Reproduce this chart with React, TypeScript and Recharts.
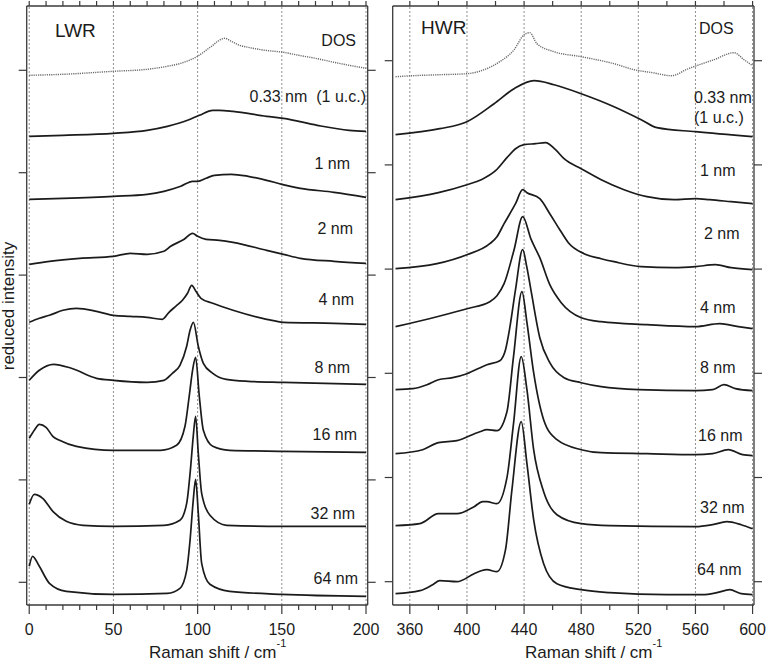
import React from "react";
import { LineChart, Line, XAxis, YAxis, ReferenceLine } from "recharts";

type Pt = [number, number];

// ---- LWR panel (low wavenumber region), Raman shift 0-200 cm-1 ----
const LWR_X_TICKS = [0, 10, 20, 30, 40, 50, 60, 70, 80, 90, 100, 110, 120, 130, 140, 150, 160, 170, 180, 190, 200];
const LWR_X_LABELS = [0, 50, 100, 150, 200];
const LWR_Y_TICKS = [0, 102.4, 204.8, 307.2, 409.6, 512];

const LWR_DOS: Pt[] = [[0, 507], [20, 508], [50, 511], [70, 513], [82, 516], [90, 519], [95, 522], [100, 526], [105, 532], [109, 537], [112, 541], [116, 544], [120, 541], [125, 537], [130, 535], [140, 532], [151, 530], [160, 527], [170, 524], [181, 520], [190, 517], [200, 514]];
const LWR_033: Pt[] = [[0, 446], [20, 447], [50, 449], [70, 452], [82, 456], [94, 462], [101, 467], [109, 472], [113, 472], [121, 471], [141, 466], [151, 464], [171, 457], [190, 452], [200, 451]];
const LWR_1: Pt[] = [[0, 383], [20, 384], [50, 386], [70, 388], [80, 391], [90, 396], [97, 401], [100, 401], [105, 404], [110, 407], [120, 408], [130, 406], [141, 402], [150, 398], [161, 394], [181, 390], [200, 385]];
const LWR_2: Pt[] = [[0, 318], [12, 321], [30, 324], [50, 326], [60, 329], [70, 328], [80, 331], [84, 336], [92, 343], [97, 349], [100, 346], [105, 343], [113, 342], [121, 340], [141, 332], [151, 328], [161, 324], [181, 321], [200, 319]];
const LWR_4: Pt[] = [[0, 260], [6, 264], [12, 267], [20, 272], [28, 274], [40, 271], [50, 267], [60, 266], [70, 265], [79, 263], [83, 270], [87, 276], [91, 282], [94, 289], [96.5, 297], [99, 291], [102, 284], [109, 279], [121, 272], [141, 263], [151, 260], [181, 259], [200, 258]];
const LWR_8: Pt[] = [[0, 202], [6, 212], [14.5, 218], [25, 214], [40, 204], [50, 202], [70, 200], [80, 202], [85, 209], [89.5, 217], [93.5, 236], [95.5, 252], [97.5, 260], [100.4, 236], [103.4, 219], [109, 209], [117, 203], [130, 201], [151, 200], [200, 198]];
const LWR_16: Pt[] = [[0, 144], [3, 152], [6, 158], [10, 155], [14, 146], [18, 142], [28, 136], [50, 132], [78, 132], [87.5, 137], [92.5, 156], [95, 186], [97, 212], [98.8, 225], [101, 186], [103.4, 152], [109, 136], [119, 132], [150, 131], [200, 130]];
const LWR_32: Pt[] = [[0, 78], [3, 88], [8, 84], [14, 71], [22, 61], [32, 57], [50, 56], [80, 57], [89.5, 62], [93.5, 79], [95.9, 116], [97.4, 146], [98.8, 166], [100.4, 129], [102.4, 89], [107.3, 67], [117.3, 57], [150, 56], [200, 56]];
const LWR_64: Pt[] = [[0, 16], [2, 26], [6, 16], [12, -1], [22, -9], [50, -12], [82, -11], [89.5, -6], [93.5, 12], [95.5, 42], [97.4, 82], [98.8, 103], [100.4, 69], [102.4, 19], [107.3, -2], [119, -9], [150, -12], [200, -14]];

// ---- HWR panel (high wavenumber region), Raman shift 348-600 cm-1 ----
const HWR_X_TICKS = [360, 380, 400, 420, 440, 460, 480, 500, 520, 540, 560, 580, 600];
const HWR_X_LABELS = [360, 400, 440, 480, 520, 560, 600];
const HWR_Y_TICKS = [0, 104.2, 208.4, 312.6, 416.8, 521];

const HWR_DOS: Pt[] = [[350, 505], [362, 506], [381, 507], [400, 508], [412, 512], [423, 520], [433, 532], [440, 547], [444, 549], [449, 538], [461, 530], [480, 525], [503, 518], [517, 512], [530, 509], [543, 506], [555, 513], [573, 522], [587, 529], [594, 522], [600, 516]];
const HWR_033: Pt[] = [[350, 447], [381, 453], [400, 460], [419, 478], [433, 493], [447, 501], [461, 497], [480, 488], [503, 475], [522, 462], [533, 454], [560, 450], [600, 445]];
const HWR_1: Pt[] = [[350, 382], [380, 389], [400, 397], [410, 402], [420, 411], [428, 424], [434, 433], [440, 437], [448, 438], [455, 439], [462, 432], [468, 423], [480, 413], [494, 402], [510, 392], [526, 385], [545, 382], [560, 383], [570, 382], [585, 380], [600, 378]];
const HWR_2: Pt[] = [[350, 313], [379, 318], [400, 327], [416, 338], [421, 345], [426, 358], [434, 378], [439, 392], [442, 389], [451, 383], [458, 368], [465, 352], [471, 339], [482, 328], [494, 323], [503, 320], [522, 315], [545, 314], [560, 315], [574, 317], [585, 314], [600, 312]];
const HWR_4: Pt[] = [[350, 255], [379, 265], [400, 273], [416, 280], [421, 286], [426, 298], [433, 332], [439, 365], [445, 342], [451, 324], [458, 297], [466, 279], [480, 264], [494, 260], [526, 257], [560, 255], [577, 258], [590, 255], [600, 253]];
const HWR_8: Pt[] = [[350, 192], [362, 193], [372, 197], [380, 202], [390, 204], [400, 208], [414, 217], [423, 221], [427, 232], [430, 254], [434, 292], [439, 332], [442, 314], [445, 290], [451, 244], [458, 219], [468, 204], [480, 199], [494, 195], [520, 192], [560, 191], [572, 192], [580, 197], [588, 193], [600, 191]];
const HWR_16: Pt[] = [[350, 128], [369, 132], [380, 139], [393, 141], [409, 150], [414, 152], [421, 151], [428, 170], [432.6, 225], [438.5, 290], [442, 259], [446.7, 209], [453.7, 162], [463, 142], [480, 132], [494, 129], [526, 128], [560, 127], [572, 128], [583, 132], [593, 127], [600, 126]];
const HWR_32: Pt[] = [[350, 56], [367, 58], [380, 68], [393, 68], [405, 75], [411, 80], [414, 80], [421, 78], [428, 104], [432.6, 158], [438, 225], [442, 192], [446.7, 132], [453.7, 90], [463, 67], [480, 58], [500, 56], [560, 55], [572, 57], [582, 60], [592, 57], [600, 53]];
const HWR_64: Pt[] = [[350, -12], [367, -9], [376, -3], [381, 1], [393, 0], [405, 8], [410, 11], [414, 12], [421, 10], [427, 32], [431.5, 92], [438, 160], [442, 118], [446.7, 62], [453.7, 18], [463, -2], [480, -8], [500, -11], [540, -13], [565, -13], [575, -11], [584, -8], [592, -12], [600, -13]];

const FONT = '"Liberation Sans", Arial, Helvetica, sans-serif';
const INK = "#1b1b1b";
const FRAME = "#3a3a3a";
const GRID = "#8f8f8f";
const DOS_INK = "#6a6a6a";
const H = 663;

function BottomTick(props: any) {
  const { x, y, payload, major } = props;
  const isMajor = major.includes(payload.value);
  return (
    <g>
      <line x1={x} x2={x} y1={y} y2={y + (isMajor ? 9 : 5)} stroke={FRAME} strokeWidth={1.2} />
      {isMajor && (
        <text x={x} y={y + 30} textAnchor="middle" fontSize={16} fontFamily={FONT} fill={INK}>
          {payload.value}
        </text>
      )}
    </g>
  );
}

// plain outward tick mark, no label
function MarkTick(props: any) {
  const { x, y, dx, dy } = props;
  return <line x1={x} y1={y} x2={x + dx} y2={y + dy} stroke={FRAME} strokeWidth={1.2} />;
}

type PanelProps = {
  left: number;
  width: number;
  plotLeft: number;
  plotRight: number;
  xDomain: [number, number];
  xTicks: number[];
  xLabels: number[];
  yDomain: [number, number];
  yTicks: number[];
  series: Pt[][];
};

// plot area spans y 6..605 on the page
function Panel({ left, width, plotLeft, plotRight, xDomain, xTicks, xLabels, yDomain, yTicks, series }: PanelProps) {
  const axisLine = { stroke: FRAME, strokeWidth: 1.3 };
  return (
    <div style={{ position: "absolute", left, top: 0 }}>
      <LineChart
        width={width}
        height={H}
        margin={{ top: 5, right: width - plotRight - 1, bottom: 18, left: plotLeft - 1 }}
      >
        <XAxis
          xAxisId="b"
          type="number"
          dataKey="x"
          domain={xDomain}
          allowDataOverflow
          ticks={xTicks}
          interval={0}
          tickSize={0}
          tickMargin={0}
          tickLine={false}
          axisLine={axisLine}
          tick={<BottomTick major={xLabels} />}
          height={40}
        />
        <XAxis
          xAxisId="t"
          orientation="top"
          type="number"
          dataKey="x"
          domain={xDomain}
          allowDataOverflow
          ticks={xTicks}
          interval={0}
          tickSize={0}
          tickMargin={0}
          tickLine={false}
          tick={<MarkTick dx={0} dy={-5} />}
          axisLine={axisLine}
          height={1}
        />
        <YAxis
          yAxisId="l"
          type="number"
          domain={yDomain}
          allowDataOverflow
          ticks={yTicks}
          interval={0}
          width={1}
          tickSize={0}
          tickMargin={0}
          tickLine={false}
          tick={<MarkTick dx={-8} dy={0} />}
          axisLine={axisLine}
        />
        <YAxis
          yAxisId="r"
          orientation="right"
          type="number"
          domain={yDomain}
          allowDataOverflow
          ticks={yTicks}
          interval={0}
          width={1}
          tickSize={0}
          tickMargin={0}
          tickLine={false}
          tick={<MarkTick dx={8} dy={0} />}
          axisLine={axisLine}
        />
        {xLabels.map((v) => (
          <ReferenceLine key={v} xAxisId="b" yAxisId="l" x={v} stroke={GRID} strokeWidth={1} strokeDasharray="2 2" />
        ))}
        {series.map((pts, i) => (
          <Line
            key={i}
            xAxisId="b"
            yAxisId="l"
            data={pts.map(([x, y]) => ({ x, y }))}
            dataKey="y"
            type="monotone"
            dot={false}
            activeDot={false}
            stroke={i === 0 ? DOS_INK : INK}
            strokeWidth={i === 0 ? 1.4 : 1.7}
            strokeDasharray={i === 0 ? "1.2 1" : undefined}
            isAnimationActive={false}
          />
        ))}
      </LineChart>
    </div>
  );
}

const LWR_LABELS = [
  { t: "DOS", x: 356, y: 46 },
  { t: "0.33 nm  (1 u.c.)", x: 366, y: 102 },
  { t: "1 nm", x: 350, y: 169 },
  { t: "2 nm", x: 353, y: 234 },
  { t: "4 nm", x: 354, y: 305 },
  { t: "8 nm", x: 350, y: 373 },
  { t: "16 nm", x: 357, y: 440 },
  { t: "32 nm", x: 355, y: 519 },
  { t: "64 nm", x: 358, y: 584 },
];

const HWR_LABELS = [
  { t: "DOS", x: 699, y: 34 },
  { t: "0.33 nm", x: 694, y: 103 },
  { t: "(1 u.c.)", x: 694, y: 123 },
  { t: "1 nm", x: 700, y: 176 },
  { t: "2 nm", x: 704, y: 239 },
  { t: "4 nm", x: 700, y: 313 },
  { t: "8 nm", x: 700, y: 373 },
  { t: "16 nm", x: 698, y: 441 },
  { t: "32 nm", x: 700, y: 513 },
  { t: "64 nm", x: 697, y: 575 },
];

export default function App() {
  return (
    <div style={{ position: "absolute", left: 0, top: 0, width: 767, height: H, background: "#fff", fontFamily: FONT }}>
      <Panel
        left={0}
        width={385}
        plotLeft={26.7}
        plotRight={367.7}
        xDomain={[-1.5, 201]}
        xTicks={LWR_X_TICKS}
        xLabels={LWR_X_LABELS}
        yDomain={[-22.7, 576.3]}
        yTicks={LWR_Y_TICKS}
        series={[LWR_DOS, LWR_033, LWR_1, LWR_2, LWR_4, LWR_8, LWR_16, LWR_32, LWR_64]}
      />
      <Panel
        left={380}
        width={387}
        plotLeft={12.7}
        plotRight={374}
        xDomain={[348, 601]}
        xTicks={HWR_X_TICKS}
        xLabels={HWR_X_LABELS}
        yDomain={[-23.3, 575.7]}
        yTicks={HWR_Y_TICKS}
        series={[HWR_DOS, HWR_033, HWR_1, HWR_2, HWR_4, HWR_8, HWR_16, HWR_32, HWR_64]}
      />
      <svg width={767} height={H} style={{ position: "absolute", left: 0, top: 0, pointerEvents: "none" }}>
        <g fontFamily={FONT} fill={INK}>
          <text x={55} y={37} fontSize={19}>LWR</text>
          <text x={421} y={34} fontSize={19}>HWR</text>
          {LWR_LABELS.map((l) => (
            <text key={l.t} x={l.x} y={l.y} fontSize={16} textAnchor="end" style={{ whiteSpace: "pre" }}>
              {l.t}
            </text>
          ))}
          {HWR_LABELS.map((l) => (
            <text key={l.t} x={l.x} y={l.y} fontSize={16} style={{ whiteSpace: "pre" }}>
              {l.t}
            </text>
          ))}
          <text x={149} y={658} fontSize={17}>
            Raman shift / cm
            <tspan dy={-11} fontSize={11}>-1</tspan>
          </text>
          <text x={525} y={658} fontSize={17}>
            Raman shift / cm
            <tspan dy={-11} fontSize={11}>-1</tspan>
          </text>
          <text x={14} y={306} fontSize={17} textAnchor="middle" transform="rotate(-90 14 306)">
            reduced intensity
          </text>
        </g>
      </svg>
    </div>
  );
}
